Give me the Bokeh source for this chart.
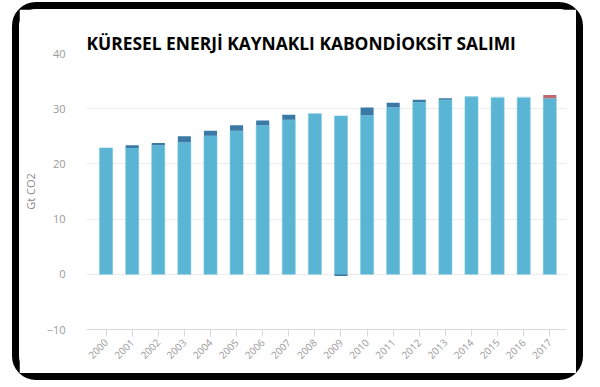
import math
from bokeh.plotting import figure
from bokeh.models import Range1d, FixedTicker, ColumnDataSource
from bokeh.embed import file_html
from bokeh.resources import INLINE

# ---- data ----
years = ["2000", "2001", "2002", "2003", "2004", "2005", "2006", "2007", "2008",
         "2009", "2010", "2011", "2012", "2013", "2014", "2015", "2016", "2017"]
base = [22.9, 22.9, 23.4, 23.9, 25.1, 26.0, 27.0, 28.0, 29.1,
        28.7, 28.8, 30.25, 31.2, 31.6, 32.1, 32.0, 32.0, 31.9]
increase = [0.0, 0.5, 0.4, 1.1, 0.9, 1.0, 0.85, 0.9, 0.0,
            -0.3, 1.4, 0.85, 0.4, 0.3, 0.0, 0.0, 0.0, 0.0]
pale = [0.0, 0.0, 0.0, 0.0, 0.0, 0.0, 0.0, 0.0, 0.0,
        0.0, 0.0, 0.0, 0.0, 0.0, 0.2, 0.15, 0.15, 0.0]
red = [0.0, 0.0, 0.0, 0.0, 0.0, 0.0, 0.0, 0.0, 0.0,
       0.0, 0.0, 0.0, 0.0, 0.0, 0.0, 0.0, 0.0, 0.6]
y_ticks = [-10, 0, 10, 20, 30, 40]
title_text = "KÜRESEL ENERJİ KAYNAKLI KABONDİOKSİT SALIMI"
y_label = "Gt CO2"

# ---- stacking ----
x = list(range(len(years)))
inc_bottom = [b if v >= 0 else 0.0 for b, v in zip(base, increase)]
inc_top = [b + v if v >= 0 else v for b, v in zip(base, increase)]
pale_bottom = [b + max(v, 0.0) for b, v in zip(base, increase)]
pale_top = [pb + pv for pb, pv in zip(pale_bottom, pale)]
red_bottom = pale_top
red_top = [rb + rv for rb, rv in zip(red_bottom, red)]

src = ColumnDataSource(dict(x=x, base=base, inc_bottom=inc_bottom, inc_top=inc_top,
                            pale_bottom=pale_bottom, pale_top=pale_top,
                            red_bottom=red_bottom, red_top=red_top))

p = figure(width=557, height=364, output_backend="svg", toolbar_location=None,
           x_range=Range1d(-0.75, 17.64), y_range=Range1d(-10, 40),
           min_border_left=64, min_border_right=24, min_border_top=44, min_border_bottom=58)

# rounded black frame around the whole chart
p.styles = {
    "border": "7px solid black",
    "border-radius": "24px",
    "box-sizing": "content-box",
    "margin-left": "12px",
    "margin-top": "2px",
}

p.title.text = title_text
p.title.text_font = "Open Sans"
p.title.text_font_style = "bold"
p.title.text_font_size = "17.4px"
p.title.text_color = "#000000"
p.title.align = "left"
p.title.offset = 0
p.title.standoff = -2

bw = 0.5
p.vbar(x="x", bottom=0, top="base", width=bw, source=src,
       fill_color="#59b5d3", line_color="#7cc6de", line_width=0.6)
p.vbar(x="x", bottom="inc_bottom", top="inc_top", width=bw, source=src,
       fill_color="#3a79a5", line_color=None)
p.vbar(x="x", bottom="pale_bottom", top="pale_top", width=bw, source=src,
       fill_color="#9fd4e6", line_color=None)
p.vbar(x="x", bottom="red_bottom", top="red_top", width=bw, source=src,
       fill_color="#bf6a70", line_color=None)

# axes
p.xaxis.ticker = FixedTicker(ticks=x)
p.xaxis.major_label_overrides = {i: yv for i, yv in enumerate(years)}
p.xaxis.major_label_orientation = math.pi / 4
p.xaxis.major_label_text_font = "Open Sans"
p.xaxis.major_label_text_font_size = "10px"
p.xaxis.major_label_text_color = "#9a9a9a"
p.xaxis.axis_line_color = "#d8d8d8"
p.xaxis.major_tick_line_color = "#d8d8d8"
p.xaxis.major_tick_out = 7
p.xaxis.major_tick_in = 0
p.xaxis.minor_tick_line_color = None
p.xaxis.major_label_standoff = 4

p.yaxis.ticker = FixedTicker(ticks=y_ticks)
p.yaxis.axis_line_color = None
p.yaxis.major_tick_line_color = None
p.yaxis.minor_tick_line_color = None
p.yaxis.major_label_text_font = "Open Sans"
p.yaxis.major_label_text_font_size = "11px"
p.yaxis.major_label_text_color = "#9a9a9a"
p.yaxis.major_label_standoff = 15
p.yaxis.axis_label = y_label
p.yaxis.axis_label_text_font = "Open Sans"
p.yaxis.axis_label_text_font_style = "normal"
p.yaxis.axis_label_text_font_size = "11px"
p.yaxis.axis_label_text_color = "#8a8a8a"
p.yaxis.axis_label_standoff = 6

p.xgrid.visible = False
p.ygrid.grid_line_color = "#ececec"
p.outline_line_color = None

open("out.html", "w").write(file_html(p, INLINE))
